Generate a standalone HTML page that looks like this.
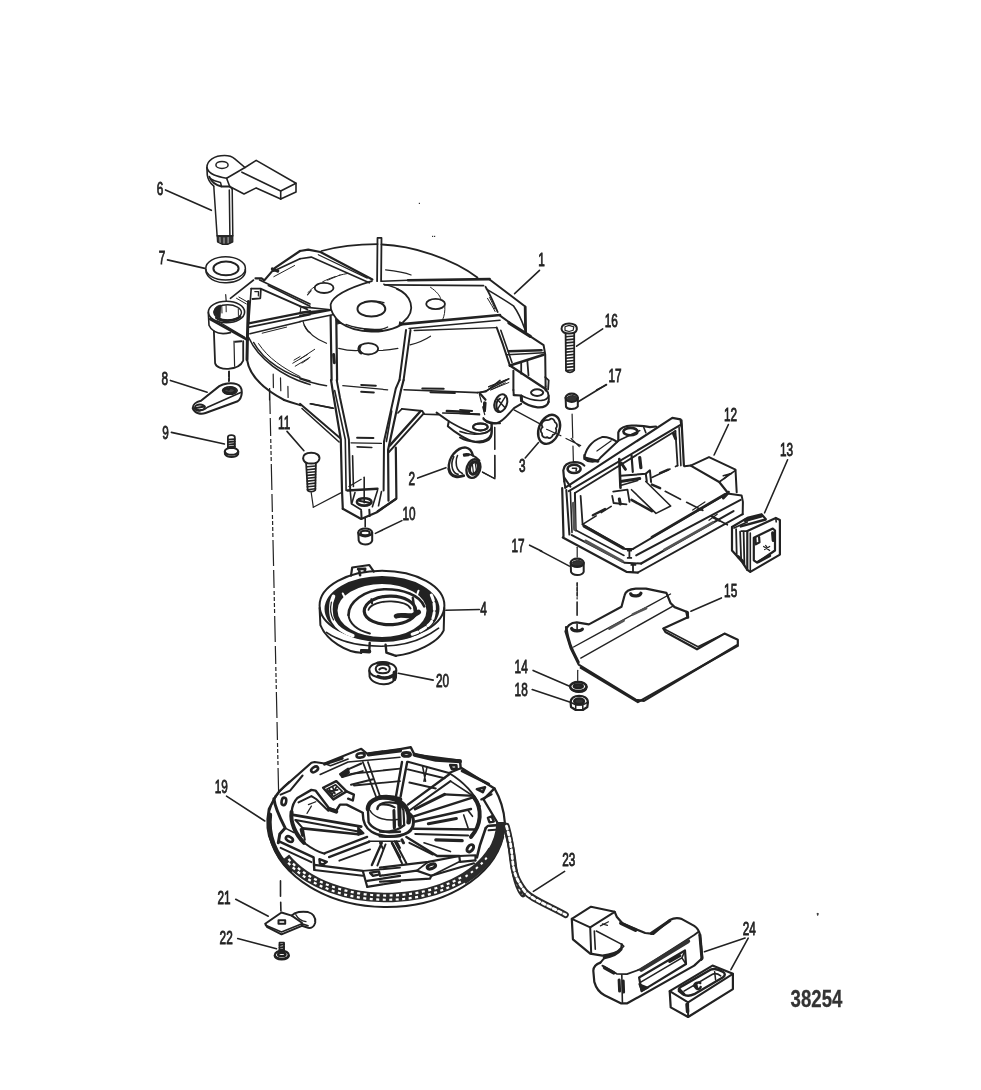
<!DOCTYPE html>
<html><head><meta charset="utf-8"><title>38254</title>
<style>
html,body{margin:0;padding:0;background:#fff;}
body{width:981px;height:1090px;overflow:hidden;}
svg{display:block;will-change:transform;}
svg path, svg ellipse, svg line{stroke:#222;stroke-linecap:round;stroke-linejoin:round;}
svg text{font-family:"Liberation Sans",sans-serif;fill:#222;stroke:#222;stroke-width:0.8px;}
</style></head><body>
<svg width="981" height="1090" viewBox="0 0 981 1090" fill="none" stroke="#222" stroke-width="1.6">
<path d="M 206.9 167.5 C 206.9 160.4 214.4 155.5 224.6 155.5 C 229.7 155.5 232.8 157.1 234.8 158.8 L 245.0 167.5 L 226.6 178.3 C 218.5 176.7 208.3 174.7 206.9 167.5 Z"/>
<ellipse cx="222.0" cy="164.9" rx="6.1" ry="3.5" stroke-width="1.5"/>
<path d="M 245.0 167.5 L 256.2 160.4 L 296.0 183.2 L 280.7 191.0 L 241.9 172.2"/>
<path d="M 296.0 183.2 L 296.0 192.0 L 280.7 199.1 L 280.7 191.0"/>
<path d="M 280.7 199.1 L 256.2 187.9 L 244.0 194.0 L 229.7 186.5"/>
<path d="M 206.9 167.5 L 207.3 175.1 C 207.9 179.8 210.3 183.2 213.8 186.1"/>
<path d="M 226.6 178.3 L 229.7 186.5 M 229.7 186.5 L 232.2 188.9"/>
<path d="M 209.3 176.7 C 211.4 181.8 215.4 185.3 221.5 186.5 L 229.7 186.5" stroke-width="1.8"/>
<path d="M 210.3 178.7 C 213.4 180.8 217.5 181.8 220.5 182.4 L 221.5 186.5" stroke-width="1.5"/>
<path d="M 213.8 186.5 L 217.1 235.8 M 232.2 188.9 L 232.8 235.8 M 229.3 189.9 L 229.9 235.8" stroke-width="1.5"/>
<path d="M 217.1 235.8 L 217.5 241.9 L 222.6 244.4 L 227.7 244.4 L 232.8 241.9 L 232.8 235.8 Z" stroke-width="1.2" fill="#333"/>
<path d="M 219.9 237.5 L 220.1 242.3 M 224.0 237.9 L 224.0 243.2 M 228.1 237.5 L 228.1 242.8" stroke-width="0.8" style="stroke:#ddd"/>
<path d="M 217.1 235.8 L 232.8 235.8" stroke-width="1.2"/>
<path d="M 165.5 189.9 L 211.4 210.3"/>
<text transform="translate(156.7 194.6) scale(0.67 1)" font-size="17.6">6</text>
<ellipse cx="225.6" cy="268.4" rx="19.8" ry="11.6" stroke-width="1.5"/>
<ellipse cx="226.0" cy="268.4" rx="12.6" ry="6.9" stroke-width="2"/>
<path d="M 205.9 269.5 L 206.1 272.5 C 209.3 280.7 219.5 283.1 226.6 282.7 C 235.8 282.7 244.0 278.6 245.4 272.1 L 245.4 269.5" stroke-width="1.5"/>
<path d="M 167.5 259.9 L 204.8 268.4"/>
<text transform="translate(158.8 264.4) scale(0.67 1)" font-size="17.6">7</text>
<ellipse cx="226.5" cy="312.0" rx="18.1" ry="10.8" stroke-width="1.6"/>
<ellipse cx="227.7" cy="312.4" rx="13.7" ry="7.6" stroke-width="1.4"/>
<path d="M 214.0 312.0 C 214.0 307.5 217.5 305.7 220.6 305.1 L 220.0 317.9 C 216.3 316.7 214.0 314.9 214.0 312.0 Z" stroke-width="1" fill="#222"/>
<path d="M 216.3 317.7 C 221.8 322.2 235.3 321.6 240.2 316.7" stroke-width="2.6"/>
<path d="M 221.8 306.3 L 222.0 313.0 M 226.1 305.7 L 226.2 311.8 M 238.3 308.7 L 238.4 315.5" stroke-width="1"/>
<path d="M 225.7 294.7 L 226.2 301.4" stroke-width="1.2"/>
<path d="M 208.3 312.4 L 209.0 325.3 C 210.2 328.3 212.0 330.2 214.5 331.4" stroke-width="1.6"/>
<path d="M 213.9 331.4 L 215.1 363.2 C 216.9 371.1 238.9 371.1 243.2 360.7 L 243.2 341.2" stroke-width="1.8"/>
<path d="M 234.0 341.2 L 234.6 366.2" stroke-width="1.2"/>
<path d="M 214.5 331.4 C 219.4 334.4 225.5 333.8 230.4 332.6" stroke-width="1.6"/>
<path d="M 210.2 319.1 L 247.5 339.9" stroke-width="2.6"/>
<path d="M 217.5 321.0 L 244.4 337.2" stroke-width="1.4"/>
<path d="M 235.3 341.8 L 241.4 341.2" stroke-width="2"/>
<path d="M 228.9 371.7 L 228.9 381.5" stroke-dasharray="5 2"/>
<path d="M 248.5 301.4 L 247.5 333.8 L 247.0 359.5" stroke-width="3"/>
<path d="M 247.0 359.5 C 248.7 371.7 258.5 386.4 284.2 400.0" stroke-width="2"/>
<path d="M 230.4 298.3 L 253.6 280.0" stroke-width="1.6"/>
<path d="M 236.5 298.3 L 246.3 303.9 M 238.9 297.1 L 247.5 302.0" stroke-width="1"/>
<path d="M 251.2 288.6 L 260.9 288.6 L 260.3 298.3 L 252.4 299.0" stroke-width="1.8"/>
<path d="M 254.8 291.6 L 258.5 291.6 L 258.3 295.9" stroke-width="1.2"/>
<path d="M 251.2 288.6 L 248.7 322.8" stroke-width="1.6"/>
<path d="M 261.6 289.2 L 307.4 309.4" stroke-width="1.9"/>
<path d="M 259.7 280.0 L 310.0 303.9" stroke-width="1.7"/>
<path d="M 268.3 285.5 L 310.0 306.3"/>
<path d="M 248.7 323.4 L 310.0 311.2" stroke-width="2.2"/>
<path d="M 249.3 327.1 L 310.0 314.6" stroke-width="1.6"/>
<path d="M 249.9 333.8 L 300.1 321.8" stroke-width="1.6"/>
<path d="M 262.2 333.2 L 286.6 327.1" stroke-width="1"/>
<path d="M 300.7 308.1 L 300.1 313.6" stroke-width="1.2"/>
<path d="M 248.7 337.5 C 258.5 359.5 283.0 376.6 310.0 384.6" stroke-width="1.6"/>
<path d="M 253.6 342.4 C 263.4 360.7 286.6 375.4 310.0 380.9" stroke-width="1.4"/>
<path d="M 258.5 343.6 C 268.3 358.3 283.0 368.1 300.1 376.6" stroke-width="1"/>
<path d="M 292.8 363.2 L 307.4 354.6 M 295.2 366.2 L 310.0 357.3 M 294.0 360.1 L 300.1 356.5" stroke-width="1"/>
<path d="M 273.2 374.2 L 273.4 387.6 M 280.5 377.9 L 280.8 390.7 M 287.9 386.4 L 288.1 397.4 M 269.5 390.1 L 269.5 400.0" stroke-width="1.2"/>
<path d="M 303.1 321.6 C 304.4 326.5 307.4 331.4 310.0 332.6" stroke-width="1.2"/>
<path d="M 321.4 251.0 C 340.8 245.5 361.2 244.1 377.5 244.1" stroke-width="1.8"/>
<path d="M 381.5 244.5 C 412.1 245.5 452.9 258.7 477.4 277.5" stroke-width="1.8"/>
<path d="M 377.5 237.9 L 377.1 281.2 M 381.5 237.9 L 381.1 281.2 M 377.5 237.9 L 381.5 237.9" stroke-width="1.8"/>
<path d="M 300.0 251.0 L 308.2 249.6 L 320.4 252.0 L 372.4 279.5" stroke-width="2.2"/>
<path d="M 300.0 258.7 L 311.2 257.1 L 369.3 282.8" stroke-width="1.6"/>
<path d="M 318.3 254.7 L 367.3 278.1" stroke-width="1.2"/>
<path d="M 371.8 281.2 C 351.0 287.3 332.6 295.4 330.6 304.6 C 330.2 309.7 332.6 315.8 340.8 323.0" stroke-width="1.8"/>
<path d="M 340.8 323.0 C 357.1 334.2 385.6 334.2 401.9 324.4" stroke-width="2"/>
<path d="M 345.9 324.4 C 361.2 330.1 381.5 331.1 387.7 327.0" stroke-width="1.2"/>
<path d="M 365.2 330.1 L 381.5 330.5" stroke-width="3"/>
<path d="M 396.8 288.9 C 410.1 294.4 418.2 309.7 403.0 322.3" stroke-width="1.8"/>
<path d="M 383.6 284.2 C 391.7 286.3 397.9 288.3 401.9 291.4" stroke-width="1.2"/>
<ellipse cx="371.4" cy="308.9" rx="13.9" ry="7.7" stroke-width="2"/>
<path d="M 364.8 302.0 C 369.3 300.7 379.5 300.7 384.0 302.8" stroke-width="1.4"/>
<ellipse cx="324.1" cy="287.9" rx="9.4" ry="5.1" stroke-width="1.8"/>
<ellipse cx="435.6" cy="304.0" rx="9.4" ry="5.1" stroke-width="1.8"/>
<ellipse cx="368.3" cy="348.8" rx="9.8" ry="5.7" stroke-width="1.8"/>
<path d="M 360.1 346.0 C 358.1 348.4 359.1 351.5 361.2 352.9" stroke-width="3"/>
<path d="M 381.5 281.2 L 408.1 280.3" stroke-width="1.6"/>
<path d="M 408.1 280.3 L 489.6 279.1" stroke-width="2.6"/>
<path d="M 384.6 284.8 L 483.5 285.6" stroke-width="1.8"/>
<path d="M 489.6 297.5 C 491.6 301.5 493.7 305.6 494.7 308.7" stroke-width="1"/>
<path d="M 399.9 324.4 L 500.0 315.0" stroke-width="2.6"/>
<path d="M 399.9 321.9 L 406.0 324.4 L 399.9 324.4 Z" stroke-width="1" fill="#222"/>
<path d="M 409.1 328.5 L 500.0 320.3" stroke-width="1.6"/>
<path d="M 414.2 330.5 L 496.1 327.6" stroke-width="1.4"/>
<path d="M 308.2 292.4 C 312.2 287.3 326.5 277.1 347.9 273.4" stroke-width="1" stroke-dasharray="14 4"/>
<path d="M 385.6 269.9 C 395.8 271.0 406.0 273.0 411.1 275.0" stroke-width="1.2"/>
<path d="M 430.5 287.3 C 436.6 291.4 439.7 295.4 440.7 298.5" stroke-width="1"/>
<path d="M 444.8 305.6 C 445.2 311.7 444.3 315.8 442.7 319.5" stroke-width="1"/>
<path d="M 430.5 336.2 C 424.4 340.3 416.2 343.3 410.1 344.8" stroke-width="1.2"/>
<path d="M 338.7 348.4 C 346.9 350.5 353.0 350.9 359.1 350.5 M 378.5 350.5 C 385.6 350.5 391.7 349.7 397.9 348.4" stroke-width="1.2"/>
<path d="M 304.1 325.0 C 308.2 333.1 316.3 339.3 326.5 343.3" stroke-width="1.2"/>
<path d="M 300.0 306.6 L 330.6 309.7" stroke-width="1.6"/>
<path d="M 300.0 312.8 L 330.6 310.1 L 300.0 315.8" stroke-width="2"/>
<path d="M 300.0 321.5 L 332.6 314.8" stroke-width="1.6"/>
<path d="M 330.6 315.8 L 331.6 380.0" stroke-width="2.2"/>
<path d="M 336.3 320.3 L 337.1 380.0" stroke-width="2.2"/>
<path d="M 335.7 318.9 L 340.8 323.0 L 337.7 324.0 Z" stroke-width="1" fill="#222"/>
<path d="M 406.0 330.1 L 399.5 380.0" stroke-width="2"/>
<path d="M 410.5 330.1 L 403.6 380.0" stroke-width="2"/>
<path d="M 333.6 354.6 L 334.3 362.7" stroke-width="3"/>
<path d="M 300.0 359.0 L 314.7 349.3 M 302.0 363.1 L 308.6 358.6" stroke-width="1"/>
<path d="M 489.6 279.5 L 525.2 306.5" stroke-width="2"/>
<path d="M 525.2 307.1 L 525.6 331.9" stroke-width="2.8"/>
<path d="M 485.5 286.7 C 490.6 295.2 494.7 305.4 497.7 312.0" stroke-width="1.8"/>
<path d="M 486.5 289.1 C 496.7 295.2 506.9 301.4 513.4 305.8 C 519.1 313.6 522.2 321.7 524.8 328.9"/>
<path d="M 487.5 298.3 C 490.6 303.4 493.6 308.5 495.1 311.5" stroke-width="1"/>
<path d="M 500.0 315.6 L 509.9 322.8" stroke-width="2"/>
<path d="M 508.9 322.8 L 530.3 336.4" stroke-width="3.2"/>
<path d="M 530.3 336.4 L 543.6 345.2 L 545.2 354.4 L 545.6 386.0" stroke-width="2"/>
<path d="M 496.7 327.5 L 502.8 344.2 L 509.9 365.6" stroke-width="2"/>
<path d="M 500.8 330.3 L 512.0 362.5"/>
<path d="M 508.9 351.3 L 541.5 350.3" stroke-width="2.6"/>
<path d="M 507.3 354.8 L 543.6 352.7"/>
<path d="M 509.9 365.6 L 543.6 354.8" stroke-width="2.6"/>
<path d="M 509.9 365.6 L 545.6 389.0" stroke-width="2.4"/>
<path d="M 521.2 362.5 L 521.2 373.7 M 527.3 360.5 L 528.5 375.2" stroke-width="1.8"/>
<path d="M 513.4 370.7 L 513.4 390.0" stroke-width="2"/>
<path d="M 488.5 387.0 L 506.9 379.8 M 490.6 390.0 L 508.9 382.5" stroke-width="1"/>
<path d="M 545.2 377.2 L 548.7 380.3 L 548.1 389.4" stroke-width="1.8"/>
<path d="M 539.5 270.4 L 514.6 293.6"/>
<text transform="translate(538.3 266.3) scale(0.67 1)" font-size="17.6">1</text>
<path d="M 561.5 328.9 C 561.5 324.8 565.0 323.4 569.1 323.4 C 573.8 323.4 577.2 325.4 576.8 329.5 C 576.2 332.3 573.1 333.6 569.1 333.6 C 565.0 333.6 561.9 331.9 561.5 328.9 Z" stroke-width="2"/>
<path d="M 565.0 326.8 L 569.1 325.4 L 573.8 326.8 L 573.1 330.3 L 569.1 331.5 L 565.0 330.3 Z" stroke-width="1.2"/>
<path d="M 565.6 333.6 L 566.0 370.7 C 568.1 373.1 572.1 373.1 574.2 370.3 L 574.2 333.6" stroke-width="1.8"/>
<path d="M 566.0 336.8 L 574.2 336.0" stroke-width="1.6"/>
<path d="M 566.0 339.9 L 574.2 339.1" stroke-width="1.6"/>
<path d="M 566.0 342.9 L 574.2 342.1" stroke-width="1.6"/>
<path d="M 566.0 346.0 L 574.2 345.2" stroke-width="1.6"/>
<path d="M 566.0 349.1 L 574.2 348.2" stroke-width="1.6"/>
<path d="M 566.0 352.1 L 574.2 351.3" stroke-width="1.6"/>
<path d="M 566.0 355.2 L 574.2 354.4" stroke-width="1.6"/>
<path d="M 566.0 358.2 L 574.2 357.4" stroke-width="1.6"/>
<path d="M 566.0 361.3 L 574.2 360.5" stroke-width="1.6"/>
<path d="M 566.0 364.4 L 574.2 363.5" stroke-width="1.6"/>
<path d="M 566.0 367.4 L 574.2 366.6" stroke-width="1.6"/>
<path d="M 566.0 370.5 L 574.2 369.7" stroke-width="1.6"/>
<path d="M 602.7 328.9 L 576.6 346.2"/>
<text transform="translate(604.8 327.1) scale(0.67 1)" font-size="17.6">16</text>
<text transform="translate(608.4 381.5) scale(0.67 1)" font-size="17.6">17</text>
<path d="M 606.4 384.9 L 596.6 390.0"/>
<path d="M 331.0 380.0 L 333.0 392.6 L 340.8 439.5 L 342.0 490.5 L 342.8 508.8" stroke-width="2.2"/>
<path d="M 336.7 380.0 L 340.0 397.7 L 348.9 439.5 L 350.2 490.5" stroke-width="2"/>
<path d="M 334.7 390.6 L 345.3 439.5 L 346.1 490.5"/>
<path d="M 399.5 380.0 L 395.8 388.5 L 384.0 441.5 L 383.6 490.5" stroke-width="2"/>
<path d="M 403.6 380.0 L 400.9 390.6 L 388.1 449.7 L 388.5 500.7" stroke-width="2.2"/>
<path d="M 391.7 411.0 L 386.4 441.5"/>
<path d="M 395.8 447.7 L 396.4 498.6 L 377.5 511.3" stroke-width="2.2"/>
<path d="M 342.8 508.8 L 361.2 519.0 L 377.5 511.9 L 395.8 499.0" stroke-width="2.2"/>
<path d="M 350.2 490.5 L 351.4 503.7 L 361.2 509.8" stroke-width="1.6"/>
<path d="M 347.3 490.5 L 377.5 488.8" stroke-width="2.4"/>
<path d="M 355.0 492.5 L 352.0 502.7 M 377.5 490.5 L 372.4 506.8 M 381.5 491.5 L 378.5 505.8" stroke-width="1.6"/>
<ellipse cx="364.2" cy="501.9" rx="7.3" ry="3.7" stroke-width="2.6"/>
<path d="M 359.1 500.7 L 369.3 502.7" stroke-width="2"/>
<path d="M 364.2 477.2 L 364.2 502.7"/>
<path d="M 361.2 510.9 L 361.6 518.6 M 369.3 509.8 L 369.7 516.0" stroke-width="2"/>
<path d="M 352.6 455.8 L 353.4 486.4"/>
<path d="M 300.0 378.8 C 310.2 382.4 318.3 384.5 326.5 385.7"/>
<path d="M 342.8 385.7 L 387.7 389.8" stroke-width="1.2"/>
<path d="M 361.2 384.9 L 375.8 385.7 M 361.2 391.8 L 373.8 392.4" stroke-width="2"/>
<path d="M 404.0 389.8 L 477.4 392.6"/>
<path d="M 422.3 388.5 L 443.7 388.7 M 430.5 392.2 L 454.9 393.0" stroke-width="2"/>
<path d="M 357.1 437.7 L 373.4 438.1" stroke-width="2"/>
<path d="M 351.0 442.8 L 381.5 443.4" stroke-width="1.2"/>
<path d="M 357.1 446.9 L 371.8 447.5" stroke-width="1.6"/>
<path d="M 300.0 403.8 L 340.0 437.9" stroke-width="2"/>
<path d="M 302.0 408.5 L 339.1 442.0" stroke-width="1.6"/>
<path d="M 310.2 403.8 L 332.6 408.1"/>
<path d="M 420.7 411.0 L 389.7 445.6" stroke-width="2.4"/>
<path d="M 423.8 413.4 L 388.9 452.2" stroke-width="2"/>
<path d="M 401.9 408.9 L 422.3 411.0 L 423.8 413.4" stroke-width="1.8"/>
<path d="M 397.9 413.0 L 401.9 408.9"/>
<path d="M 424.4 414.2 L 438.6 414.6" stroke-width="1.6"/>
<path d="M 436.6 412.6 L 448.8 421.2 L 447.8 426.3 C 454.9 432.4 467.2 440.5 475.3 442.0 C 483.5 443.6 491.6 440.5 491.6 433.4 L 491.6 423.6" stroke-width="2"/>
<path d="M 442.7 413.0 L 479.4 414.0"/>
<path d="M 446.8 411.0 L 469.2 412.0" stroke-width="2.4"/>
<path d="M 448.8 421.2 C 459.0 427.3 471.3 433.4 479.4 433.8 C 485.5 433.8 489.6 431.4 491.6 428.3"/>
<ellipse cx="480.4" cy="426.9" rx="7.3" ry="3.5" stroke-width="2"/>
<path d="M 477.4 392.6 L 485.9 391.6 L 500.0 380.4" stroke-width="1.6"/>
<path d="M 479.4 394.3 L 485.9 419.1" stroke-width="1.2" stroke-dasharray="8 5"/>
<path d="M 484.5 402.8 L 484.5 410.2" stroke-width="3"/>
<path d="M 483.5 419.1 C 487.6 422.2 493.7 423.6 500.0 423.2" stroke-width="2"/>
<path d="M 500.0 398.7 C 495.7 400.8 494.7 408.9 500.0 412.0" stroke-width="2"/>
<path d="M 494.7 427.3 L 494.7 478.2" stroke-width="1.2" stroke-dasharray="22 6"/>
<path d="M 482.5 472.1 L 494.7 478.7" stroke-width="1.2"/>
<path d="M 448.9 468.9 C 448.3 462.8 450.2 457.9 453.8 453.6 C 457.5 449.4 462.4 447.2 466.1 447.6 C 469.1 448.1 471.6 450.6 472.8 455.2" stroke-width="2.4"/>
<path d="M 448.9 468.9 C 449.5 472.6 452.0 475.7 455.7 476.5 C 458.7 477.2 461.2 476.5 463.6 475.7" stroke-width="3"/>
<path d="M 453.8 456.7 C 452.0 460.4 451.4 465.3 452.6 468.9 C 453.6 472.0 455.7 473.8 458.1 474.4" stroke-width="1.6"/>
<path d="M 457.5 455.5 C 455.7 459.1 455.7 465.3 457.5 468.9 C 458.7 471.4 460.6 472.8 462.4 473.6" stroke-width="1.6"/>
<path d="M 463.6 454.3 C 467.3 453.3 472.2 454.9 475.8 457.3 L 479.5 460.4" stroke-width="1.8"/>
<path d="M 464.2 455.5 L 468.5 454.9" stroke-width="2.6"/>
<ellipse cx="473.4" cy="468.6" rx="6.7" ry="9.5" transform="rotate(18 473.4 468.6)" stroke-width="2.4"/>
<ellipse cx="473.9" cy="468.0" rx="4.2" ry="6.4" transform="rotate(18 473.9 468.0)" stroke-width="3"/>
<path d="M 472.2 462.8 L 473.4 472.6 M 475.2 462.8 L 476.5 471.4" stroke-width="1.2"/>
<path d="M 417.7 478.1 L 445.9 467.7"/>
<text transform="translate(408.6 485.0) scale(0.67 1)" font-size="17.6">2</text>
<path d="M 303.1 458.3 C 303.1 454.2 307.1 452.8 311.2 452.8 C 316.3 452.8 319.8 454.8 319.4 458.9 C 318.8 462.3 315.3 463.6 311.2 463.6 C 307.1 463.6 303.5 461.9 303.1 458.3 Z" stroke-width="2"/>
<path d="M 306.1 463.0 L 307.7 490.5 C 309.8 492.1 313.3 492.1 315.3 490.1 L 315.9 463.0" stroke-width="1.8"/>
<path d="M 307.3 466.8 L 315.5 466.0" stroke-width="1.6"/>
<path d="M 307.3 469.7 L 315.5 468.9" stroke-width="1.6"/>
<path d="M 307.3 472.5 L 315.5 471.7" stroke-width="1.6"/>
<path d="M 307.3 475.4 L 315.5 474.6" stroke-width="1.6"/>
<path d="M 307.3 478.2 L 315.5 477.4" stroke-width="1.6"/>
<path d="M 307.3 481.1 L 315.5 480.3" stroke-width="1.6"/>
<path d="M 307.3 484.0 L 315.5 483.1" stroke-width="1.6"/>
<path d="M 307.3 486.8 L 315.5 486.0" stroke-width="1.6"/>
<path d="M 307.3 489.7 L 315.5 488.8" stroke-width="1.6"/>
<path d="M 311.2 492.5 L 313.3 507.2" stroke-width="1.2"/>
<path d="M 313.3 507.2 L 340.8 492.9 M 348.9 486.4 L 361.2 479.3" stroke-width="1.2"/>
<text transform="translate(402.5 519.6) scale(0.67 1)" font-size="17.6">10</text>
<path d="M 513.4 390.0 L 513.8 395.1" stroke-width="2"/>
<path d="M 545.6 386.5 L 545.6 390.6" stroke-width="2"/>
<path d="M 545.6 389.2 C 549.3 392.6 549.3 399.8 548.1 402.8" stroke-width="2"/>
<path d="M 513.8 395.1 L 521.2 395.5 L 521.6 400.8 C 525.2 403.8 530.3 406.1 537.5 407.3 C 543.6 407.7 547.3 405.9 548.7 401.8" stroke-width="2.2"/>
<path d="M 521.2 395.5 C 527.3 398.7 535.4 400.8 541.5 400.4 C 545.6 400.0 548.1 397.7 548.7 395.7"/>
<ellipse cx="537.1" cy="392.6" rx="6.1" ry="3.3" stroke-width="2"/>
<path d="M 521.2 396.3 L 521.6 400.8" stroke-width="3"/>
<ellipse cx="500.8" cy="403.2" rx="6.1" ry="9.2" transform="rotate(20 500.8 403.2)" stroke-width="2"/>
<path d="M 496.7 398.7 L 505.3 408.1 M 505.3 396.7 L 497.1 409.9" stroke-width="1.5"/>
<path d="M 486.5 390.6 L 508.9 378.8" stroke-width="1.6"/>
<path d="M 488.5 386.5 L 506.9 379.4 M 491.0 389.8 L 505.3 382.8" stroke-width="1"/>
<path d="M 480.4 392.6 L 486.5 390.6" stroke-dasharray="6 4"/>
<path d="M 480.0 393.6 L 485.5 399.8 M 485.5 402.8 L 484.9 411.0" stroke-width="2.2" stroke-dasharray="12 6"/>
<path d="M 483.4 418.1 C 485.5 422.2 490.6 424.2 496.7 423.2 C 503.8 421.2 508.9 413.0 514.0 408.1 L 521.2 403.8" stroke-width="2"/>
<ellipse cx="480.4" cy="426.9" rx="7.3" ry="3.5" stroke-width="2"/>
<path d="M 460.0 437.5 C 466.1 441.1 474.3 442.6 482.4 441.1 C 488.5 439.5 491.6 436.5 491.8 431.4 L 491.6 423.6" stroke-width="2"/>
<path d="M 460.0 431.4 C 466.1 433.8 474.3 434.6 480.4 433.8 C 486.5 433.0 490.2 430.3 491.6 427.3"/>
<path d="M 494.7 427.3 L 495.1 478.2" stroke-width="1.2" stroke-dasharray="22 6"/>
<path d="M 482.4 472.1 L 495.1 478.7" stroke-width="1.2"/>
<path d="M 460.0 409.9 L 472.2 411.0 M 460.0 413.4 L 479.4 414.6" stroke-width="1.8"/>
<ellipse cx="549.1" cy="429.3" rx="10.2" ry="15.1" transform="rotate(22 549.1 429.3)" stroke-width="2.4"/>
<path d="M 543.6 421.2 C 545.6 419.1 548.1 421.2 549.7 419.5 C 551.7 417.5 554.2 419.1 555.0 422.2 C 557.0 423.2 557.9 426.3 555.8 428.3 C 557.5 431.4 555.4 434.4 552.8 435.0 C 552.2 437.9 548.9 439.1 547.3 437.1 C 544.6 438.5 541.5 436.5 542.0 433.4 C 539.9 431.4 540.7 428.3 542.6 427.3 C 541.1 424.8 542.0 422.2 543.6 421.2 Z" stroke-width="1.8"/>
<path d="M 538.5 442.6 L 525.2 457.9"/>
<text transform="translate(519.1 471.7) scale(0.67 1)" font-size="17.6">3</text>
<path d="M 514.0 409.9 L 539.5 423.6" stroke-width="1.2"/>
<path d="M 546.6 429.3 L 560.9 435.8 M 566.0 438.5 L 580.7 445.6 M 571.1 438.5 L 579.3 446.6" stroke-width="1.2"/>
<path d="M 565.6 397.7 L 566.0 406.9 C 568.1 409.9 575.2 409.9 577.8 406.5 L 577.8 397.7" stroke-width="2"/>
<ellipse cx="571.7" cy="397.7" rx="6.1" ry="4.1" stroke-width="2.2"/>
<path d="M 567.0 397.7 C 568.1 395.1 575.2 394.7 576.6 397.3 L 576.2 400.8 L 567.6 400.8 Z" stroke-width="1" fill="#333"/>
<path d="M 606.4 384.5 L 578.2 401.8"/>
<path d="M 572.1 414.0 L 573.4 461.9" stroke-width="1.2" stroke-dasharray="24 8"/>
<path d="M 565.3 487.7 L 672.3 417.9 L 680.5 419.4 L 681.5 426.5" stroke-width="2.2"/>
<path d="M 568.8 491.1 L 680.5 424.9" stroke-width="2"/>
<path d="M 574.9 493.0 L 675.4 431.0" stroke-width="1.8"/>
<path d="M 681.5 420.4 L 683.9 465.6" stroke-width="2.2"/>
<path d="M 675.4 431.0 L 677.6 465.6" stroke-width="1.8"/>
<path d="M 679.1 427.5 L 680.9 465.6"/>
<path d="M 673.5 433.6 L 675.6 438.7" stroke-width="3"/>
<path d="M 564.3 481.5 L 563.3 470.3 C 563.9 465.2 568.3 462.4 574.5 462.2 C 579.6 462.2 582.6 463.6 584.3 465.6" stroke-width="2.2"/>
<ellipse cx="574.1" cy="468.9" rx="6.5" ry="4.1" stroke-width="2.6"/>
<path d="M 572.4 468.3 L 576.5 468.3 L 576.1 470.9"/>
<path d="M 564.3 481.5 L 565.3 487.7 M 564.3 477.5 L 570.4 486.6" stroke-width="2"/>
<path d="M 584.3 459.1 C 584.7 451.0 590.8 440.8 602.0 437.1 C 607.1 436.3 612.2 438.7 617.3 441.8" stroke-width="2"/>
<path d="M 584.3 455.0 C 583.6 459.1 586.7 461.2 590.8 461.6 C 595.9 462.2 598.9 460.1 600.6 457.5 L 617.3 441.8" stroke-width="2"/>
<path d="M 585.7 458.1 L 597.9 461.2" stroke-width="3"/>
<path d="M 596.9 451.0 L 611.2 440.8" stroke-width="1.2"/>
<path d="M 618.3 440.8 L 618.3 432.6 C 619.3 428.1 625.4 425.5 631.5 425.5 C 639.7 425.5 645.8 426.1 649.9 427.1 L 656.0 426.5" stroke-width="2.2"/>
<ellipse cx="630.5" cy="431.6" rx="7.1" ry="3.7" stroke-width="2.6"/>
<path d="M 618.3 440.8 L 620.3 439.8 L 639.7 430.6"/>
<path d="M 643.8 427.5 L 645.8 432.6"/>
<path d="M 562.2 488.1 L 563.5 536.6" stroke-width="2.2"/>
<path d="M 566.3 490.1 L 569.4 534.6" stroke-width="2"/>
<path d="M 570.4 491.7 L 572.0 532.5"/>
<path d="M 574.9 493.0 L 575.7 530.5" stroke-width="2"/>
<path d="M 580.6 495.8 L 582.6 524.4" stroke-width="1.8"/>
<path d="M 582.6 524.4 L 611.2 506.4" stroke-dasharray="16 6"/>
<path d="M 592.8 515.2 L 605.0 509.1" stroke-width="2.4"/>
<path d="M 651.9 477.5 L 677.6 465.6" stroke-dasharray="20 6"/>
<path d="M 660.1 473.0 L 668.2 469.7" stroke-width="2.4"/>
<path d="M 633.0 548.8 L 727.4 493.4" stroke-width="2"/>
<path d="M 651.9 537.0 L 725.3 494.2" stroke-width="2.6"/>
<path d="M 636.2 555.4 L 740.6 499.9" stroke-width="2"/>
<path d="M 641.1 563.5 L 733.5 511.1" stroke-width="2.2"/>
<path d="M 664.2 549.8 L 713.1 522.3" stroke-width="2.6" style="stroke:#555"/>
<path d="M 637.9 572.5 L 742.7 514.2" stroke-width="2"/>
<path d="M 727.4 493.4 L 741.6 495.4 L 742.9 501.9 L 742.7 514.2" stroke-width="2"/>
<path d="M 723.3 497.9 C 725.3 495.8 727.4 494.2 728.4 492.2" stroke-width="3"/>
<path d="M 684.6 466.3 L 690.7 465.6 L 709.0 457.1 L 735.5 469.7 L 736.7 492.2" stroke-width="2"/>
<path d="M 690.7 465.6 L 719.2 482.0 L 727.4 492.2" stroke-width="2.2"/>
<path d="M 719.2 482.0 L 735.5 470.3"/>
<path d="M 723.3 475.8 L 731.4 473.4 M 724.3 478.5 L 729.4 473.8"/>
<path d="M 619.3 459.1 L 620.5 487.7" stroke-width="2.6"/>
<path d="M 631.5 455.0 L 632.8 471.8" stroke-width="2.2"/>
<path d="M 639.7 457.5 L 640.9 467.7" stroke-width="3.2"/>
<path d="M 621.4 463.2 L 625.4 469.3" stroke-width="3"/>
<path d="M 620.5 475.8 L 645.8 473.8 L 649.9 470.3 L 651.1 482.0" stroke-width="2"/>
<path d="M 620.5 481.5 L 639.7 478.5" stroke-width="3"/>
<path d="M 620.5 485.6 L 637.7 480.5"/>
<path d="M 645.8 473.8 L 646.8 481.5" stroke-width="2"/>
<path d="M 613.2 491.7 L 627.5 489.7 L 629.5 501.9" stroke-width="1.8"/>
<path d="M 612.2 495.8 L 613.6 503.0 L 626.5 504.4" stroke-width="1.8"/>
<path d="M 619.3 498.9 L 620.3 504.0" stroke-width="3"/>
<path d="M 631.5 489.7 L 656.0 513.4 L 670.7 506.0 L 645.8 481.5" stroke-width="1.6"/>
<path d="M 631.5 499.9 L 651.9 511.1" stroke-width="2.6"/>
<path d="M 651.9 484.6 L 660.1 488.1" stroke-width="2.6"/>
<path d="M 665.2 491.3 L 680.5 499.3 M 686.6 502.3 L 702.9 510.5 M 711.1 516.2 L 727.4 524.8"/>
<path d="M 697.8 510.1 L 701.9 509.1 M 713.1 517.2 L 719.2 520.3" stroke-width="2.6"/>
<path d="M 704.9 501.9 L 692.7 510.1 M 717.2 514.2 L 709.0 520.3" stroke-width="1.2"/>
<path d="M 728.4 424.5 L 714.1 455.0"/>
<text transform="translate(723.9 421.0) scale(0.67 1)" font-size="17.6">12</text>
<path d="M 582.7 524.5 L 624.8 548.9 L 633.0 548.9" stroke-width="2"/>
<path d="M 584.0 526.1 L 623.2 548.1" stroke-width="3"/>
<path d="M 575.9 530.2 L 624.0 555.5" stroke-width="1.6"/>
<path d="M 571.8 535.1 L 624.8 562.8 L 641.1 563.6" stroke-width="2"/>
<path d="M 585.7 541.1 L 622.4 561.3" stroke-width="3" style="stroke:#555"/>
<path d="M 562.8 537.5 L 626.4 571.8 L 637.9 572.6" stroke-width="2.2"/>
<path d="M 629.4 550.6 L 629.4 557.9 M 627.7 550.6 L 631.3 550.6 M 627.7 557.9 L 631.3 557.9" stroke-width="1.8"/>
<path d="M 633.0 564.9 L 633.0 571.8 M 631.3 564.9 L 635.4 564.9" stroke-width="1.8"/>
<path d="M 573.4 503.3 L 574.6 529.4" stroke-width="3" style="stroke:#555"/>
<path d="M 570.7 562.8 L 571.0 571.8 C 572.6 575.8 581.6 576.3 583.7 571.8 L 583.7 562.8" stroke-width="2"/>
<ellipse cx="577.2" cy="562.8" rx="6.5" ry="4.1" stroke-width="2.2"/>
<path d="M 572.3 562.8 C 573.4 560.0 581.1 559.7 582.4 562.3 L 582.1 565.6 L 572.9 565.6 Z" stroke-width="1" fill="#333"/>
<path d="M 540.0 550.6 L 569.4 566.1"/>
<path d="M 577.2 547.3 L 577.2 557.1" stroke-width="1.2"/>
<path d="M 577.2 583.2 L 577.2 596.2" stroke-width="1.2" stroke-dasharray="20 6"/>
<path d="M 747.3 531.1 L 775.8 517.9 L 779.9 519.9 L 779.9 554.6 L 750.3 571.9 L 747.3 569.8 Z" stroke-width="2.2"/>
<path d="M 750.3 533.1 L 750.3 571.9 M 775.8 517.9 L 776.2 521.9"/>
<path d="M 753.8 537.8 L 772.8 528.5 L 775.0 530.5 L 775.0 550.5 L 757.1 562.7 L 753.8 560.3 Z" stroke-width="2.2"/>
<path d="M 755.4 538.2 L 755.8 544.4 L 759.5 542.3 L 759.1 537.2" stroke-width="2.2"/>
<path d="M 772.8 533.1 L 773.4 540.3" stroke-width="3.5"/>
<path d="M 758.5 561.7 L 769.7 555.6" stroke-width="3"/>
<path d="M 763.6 546.4 L 769.7 550.5 M 765.6 545.4 L 768.7 549.5 M 764.6 549.5 L 769.7 546.4" stroke-width="1.2"/>
<path d="M 732.0 527.0 L 747.3 517.9 L 761.5 514.2 L 765.6 518.9" stroke-width="2.2"/>
<path d="M 732.0 527.0 L 732.0 550.5 L 741.2 560.7 L 747.3 569.8" stroke-width="2.2"/>
<path d="M 736.1 529.1 L 736.7 554.6 M 740.1 531.7 L 741.2 560.7 M 743.6 531.7 L 744.4 564.8" stroke-width="1.8"/>
<path d="M 745.2 520.3 L 761.5 515.8" stroke-width="3.5"/>
<path d="M 740.8 526.4 L 765.6 519.5" stroke-width="2.4"/>
<path d="M 734.0 528.1 L 747.3 521.9 M 741.2 531.1 L 747.3 531.1"/>
<path d="M 738.1 556.6 L 743.2 561.7" stroke-width="3"/>
<path d="M 787.6 459.8 L 764.6 512.8"/>
<text transform="translate(779.9 455.9) scale(0.67 1)" font-size="17.6">13</text>
<path d="M 565.5 631.5 C 566.1 626.5 570.6 622.4 576.7 622.4 L 588.9 624.4 L 621.5 606.7 L 624.6 595.3 C 625.6 590.8 630.7 589.1 635.8 588.7 L 646.0 588.7 L 666.4 592.8 L 670.5 603.0 L 674.6 607.1 L 687.8 612.2 L 687.8 617.3 L 663.3 628.5 L 665.4 632.0 L 697.0 649.3 L 724.5 633.6 L 737.8 639.7 L 737.8 644.8 L 644.0 700.9 L 635.8 699.8 L 578.7 664.6 L 570.6 647.9 Z" stroke-width="2.2"/>
<path d="M 663.3 628.5 L 698.0 646.8 L 724.5 633.6"/>
<path d="M 580.8 667.8 L 637.9 702.1 L 737.8 645.8" stroke-width="2.2"/>
<path d="M 573.6 647.0 L 670.5 594.0" stroke-width="1.4"/>
<path d="M 580.8 658.1 L 672.5 606.3" stroke-width="1.4"/>
<path d="M 609.3 628.7 L 623.6 620.7 M 632.8 614.4 L 646.0 608.3" stroke-width="2.6" style="stroke:#555"/>
<path d="M 571.6 628.5 C 572.6 631.5 580.8 631.5 582.4 629.1" stroke-width="3.2"/>
<path d="M 577.1 624.4 L 577.1 630.5"/>
<path d="M 630.7 593.8 C 631.7 596.9 639.9 596.5 640.9 593.2" stroke-width="3.2"/>
<path d="M 686.8 612.2 L 687.8 617.3" stroke-width="3"/>
<path d="M 721.4 597.9 L 690.9 611.2"/>
<text transform="translate(724.1 596.9) scale(0.67 1)" font-size="17.6">15</text>
<path d="M 577.1 582.6 L 577.1 598.9" stroke-width="1.2" stroke-dasharray="3 2"/>
<path d="M 577.1 602.0 L 577.1 615.2" stroke-width="1.6"/>
<path d="M 577.7 670.3 L 577.7 680.5" stroke-width="1.2" stroke-dasharray="14 5"/>
<ellipse cx="578.3" cy="686.6" rx="8.2" ry="4.5" stroke-width="2.6"/>
<ellipse cx="578.3" cy="686.2" rx="4.5" ry="1.8" stroke-width="2.4" fill="#333"/>
<path d="M 570.2 687.0 C 570.6 690.7 575.7 692.3 578.7 692.3 C 582.8 692.3 586.5 690.7 586.9 687.0" stroke-width="1.6"/>
<path d="M 570.6 702.5 C 570.6 697.8 574.7 695.8 579.1 695.8 C 583.8 695.8 587.9 697.8 587.9 702.5 L 587.3 707.0 L 582.8 710.0 L 575.7 710.0 L 571.0 707.0 Z" stroke-width="2.2"/>
<ellipse cx="579.1" cy="701.3" rx="4.9" ry="2.9" stroke-width="2.4" fill="#333"/>
<path d="M 575.7 704.9 L 582.8 704.9 L 587.3 702.5 M 575.7 704.9 L 571.0 702.5 M 575.7 704.9 L 575.7 710.0 M 582.8 704.9 L 582.8 710.0" stroke-width="1.5"/>
<path d="M 192.8 408.5 C 192.4 404.9 195.9 401.8 201.0 400.8 L 219.3 386.1 C 223.4 383.4 231.5 382.4 236.6 384.1 C 240.7 385.5 242.2 388.5 241.7 393.6 C 241.3 397.7 239.7 399.8 237.7 401.2 L 205.5 413.0 C 201.0 414.6 194.9 413.4 192.8 408.5 Z" stroke-width="2"/>
<path d="M 201.0 410.2 C 204.0 409.9 206.1 408.9 207.5 407.3 L 240.7 392.6" stroke-width="1.6"/>
<path d="M 193.8 407.9 C 195.9 411.0 198.9 411.4 201.0 410.2"/>
<ellipse cx="229.9" cy="390.6" rx="7.3" ry="3.7" stroke-width="1.6"/>
<path d="M 223.8 389.6 L 226.5 388.1 L 228.5 389.6 L 230.5 387.5 L 233.6 388.5 L 235.6 390.6 L 233.6 392.6 L 230.5 393.6 L 227.5 392.6 L 225.0 392.2 Z" stroke-width="2.4" fill="#444"/>
<ellipse cx="199.9" cy="407.3" rx="4.9" ry="2.9" stroke-width="2"/>
<path d="M 195.9 407.9 L 204.6 406.5" stroke-width="2"/>
<path d="M 229.1 371.2 L 229.1 380.4"/>
<path d="M 170.4 380.4 L 207.1 392.2"/>
<text transform="translate(161.4 385.1) scale(0.67 1)" font-size="17.6">8</text>
<path d="M 227.9 437.1 C 227.9 434.4 234.6 434.4 234.8 437.1 L 234.8 448.1 L 227.9 448.1 Z" stroke-width="1.8"/>
<path d="M 227.9 439.7 L 234.8 439.1" stroke-width="1.8"/>
<path d="M 227.9 442.2 L 234.8 441.5" stroke-width="1.8"/>
<path d="M 227.9 444.6 L 234.8 444.0" stroke-width="1.8"/>
<path d="M 227.9 447.1 L 234.8 446.4" stroke-width="1.8"/>
<ellipse cx="231.5" cy="451.3" rx="6.7" ry="3.5" stroke-width="2"/>
<path d="M 224.8 451.7 L 225.0 454.2 C 227.5 457.9 235.6 457.9 238.1 454.2 L 238.3 451.7" stroke-width="2"/>
<path d="M 171.4 432.4 L 224.4 444.0"/>
<text transform="translate(162.2 438.7) scale(0.67 1)" font-size="17.6">9</text>
<text transform="translate(278.0 428.9) scale(0.67 1)" font-size="17.6">11</text>
<path d="M 287.0 431.4 L 303.9 450.7"/>
<path d="M269.6 388 L278.6 792" stroke-width="1.2" stroke-dasharray="26 4 18 3 4 2 4 2 4 2 4 3" style="stroke-linecap:butt"/>
<path d="M 284.1 400.0 C 290.7 402.4 295.8 403.8 300.9 405.3" stroke-width="2"/>
<path d="M 311.1 403.8 L 333.5 408.3"/>
<path d="M 358.3 532.8 L 358.7 540.6 C 360.1 545.7 370.3 545.7 372.2 540.6 L 372.2 532.8" stroke-width="2"/>
<ellipse cx="365.2" cy="532.4" rx="6.9" ry="3.9" stroke-width="2.2"/>
<ellipse cx="365.2" cy="533.0" rx="4.5" ry="2.2" stroke-width="2"/>
<path d="M 365.2 518.2 L 365.2 526.7"/>
<path d="M 375.4 533.4 L 401.9 520.6"/>
<ellipse cx="382.0" cy="605.4" rx="62.4" ry="34.7" stroke-width="2"/>
<path d="M 319.6 607.9 L 320.4 625.2 C 326.5 640.5 346.9 652.7 361.2 652.7 M 395.8 655.8 C 414.2 653.7 438.6 642.5 443.7 630.3 L 444.3 607.9" stroke-width="2"/>
<path d="M 361.2 652.7 L 361.2 650.3 L 369.3 650.7 L 369.7 642.9 M 385.6 644.6 L 386.4 652.7 L 393.8 655.2 L 395.8 655.8" stroke-width="2.4"/>
<path d="M 362.2 651.1 L 369.3 651.5" stroke-width="4"/>
<path d="M 326.5 632.3 C 340.8 642.5 361.2 646.2 381.5 646.2 C 401.9 646.2 422.3 640.5 438.6 628.2"/>
<path fill-rule="evenodd" fill="#222" stroke="none" style="stroke:none" d="M324.5 609 A57.5 33 0 1 0 439.5 609 A57.5 33 0 1 0 324.5 609 Z M337.5 610.5 A44.5 26.5 0 1 0 426.5 610.5 A44.5 26.5 0 1 0 337.5 610.5 Z"/>
<path d="M 333.5 596.4 C 330.0 603.5 330.0 614.9 333.5 621.4 C 337.1 627.8 344.3 632.8 352.8 635.6" stroke-width="3.6" style="stroke:#fff"/>
<path d="M 331.4 602.1 C 330.0 607.8 330.7 614.9 333.5 619.9" stroke-width="1.2"/>
<path d="M 431.3 595.0 C 435.6 603.5 435.3 614.9 431.3 622.1 C 427.0 627.8 418.5 632.8 409.9 634.9" stroke-width="3" stroke-dasharray="6 3" style="stroke:#fff"/>
<path d="M 342.8 593.5 L 345.0 597.8 M 418.5 590.7 L 417.0 595.0" stroke-width="2" style="stroke:#fff"/>
<path d="M 348.5 614.9 C 348.5 602.1 364.2 590.0 384.2 589.3 C 402.8 589.0 419.9 595.0 424.2 606.4" stroke-width="2.6"/>
<path d="M 348.5 614.9 C 349.2 623.5 357.1 630.6 369.9 633.5" stroke-width="2"/>
<path d="M 364.2 611.4 C 364.2 602.1 377.1 595.7 391.3 596.1 C 404.2 596.4 415.6 602.1 415.9 610.7 C 415.9 617.8 407.0 623.5 392.8 624.6 C 377.1 625.2 364.9 619.9 364.2 611.4 Z" stroke-width="3.2"/>
<path d="M 368.5 609.9 C 369.9 604.2 381.4 601.0 391.3 601.4 C 399.9 601.8 408.5 604.2 410.6 608.5" stroke-width="1.8"/>
<path d="M 396.3 616.1 C 399.9 614.2 407.0 616.4 412.8 615.7 L 418.5 612.1" stroke-width="5"/>
<path d="M 412.8 597.8 L 414.9 612.1" stroke-width="2.4"/>
<path d="M 371.4 599.2 L 372.1 603.5" stroke-width="2"/>
<path d="M 351.0 575.6 L 352.2 567.5 L 369.3 565.0 L 373.8 571.6" stroke-width="2.2"/>
<path d="M 358.1 569.1 L 365.2 568.7 L 364.8 571.2 M 359.1 569.5 L 360.1 575.2" stroke-width="2.6"/>
<path d="M 445.8 610.3 L 479.4 609.5"/>
<text transform="translate(480.2 614.6) scale(0.67 1)" font-size="17.6">4</text>
<path d="M 275.4 796.5 L 279.1 791.4 L 311.4 762.8 L 314.6 762.0 L 324.6 763.5 L 361.3 748.8 L 366.9 753.5 L 400.0 749.1" stroke-width="2.2"/>
<path d="M 280.6 794.6 L 290.1 790.6 L 302.6 775.5" stroke-width="2"/>
<path d="M 324.6 763.5 L 330.5 765.7 L 348.1 759.1" stroke-width="1.6"/>
<path d="M 324.6 764.2 L 342.2 758.3" stroke-width="3"/>
<path d="M 368.6 754.4 L 400.0 750.6" stroke-width="4"/>
<path d="M 320.2 774.5 L 348.1 762.0 L 400.0 757.3" stroke-width="1.6"/>
<ellipse cx="360.6" cy="755.4" rx="4.1" ry="2.1" transform="rotate(-10 360.6 755.4)" stroke-width="2.6"/>
<ellipse cx="314.6" cy="769.4" rx="3.8" ry="2.3" transform="rotate(-35 314.6 769.4)" stroke-width="2.6"/>
<ellipse cx="283.9" cy="801.4" rx="2.3" ry="3.8" transform="rotate(10 283.9 801.4)" stroke-width="2.6"/>
<ellipse cx="289.4" cy="839.1" rx="3.8" ry="2.3" transform="rotate(30 289.4 839.1)" stroke-width="2.6"/>
<path d="M 319.4 859.2 L 326.8 861.8 L 323.1 864.5 L 319.9 863.6 Z" stroke-width="2.4"/>
<path d="M 370.1 872.8 L 378.9 871.4 L 379.6 874.3 L 373.0 875.8 Z" stroke-width="2.4"/>
<path d="M 273.9 798.7 C 274.7 806.1 279.1 816.3 285.2 828.1 L 279.8 833.9 L 278.3 842.8" stroke-width="3"/>
<path d="M 275.4 796.5 L 268.8 809.0 C 266.6 820.7 267.3 833.9 271.7 842.8" stroke-width="2.2"/>
<path d="M 279.1 841.3 L 313.6 857.4 L 314.3 869.9" stroke-width="2.4"/>
<path d="M 280.6 847.9 L 311.4 862.1" stroke-width="2"/>
<path d="M 285.2 828.1 L 293.8 832.5" stroke-width="1.6"/>
<path d="M 291.6 811.9 C 292.3 804.6 295.2 800.2 297.4 798.0 L 311.4 789.9 L 315.5 790.6 L 329.0 808.3 L 336.3 810.5 L 340.0 804.6 L 346.6 804.6 L 362.8 812.7" stroke-width="2.4"/>
<path d="M 298.5 802.4 L 311.4 796.1 L 316.1 799.0 L 328.3 810.8" stroke-width="2"/>
<path d="M 329.0 809.0 L 336.3 811.6" stroke-width="4"/>
<path d="M 323.1 787.7 L 336.3 781.1 L 346.6 791.4 L 333.4 799.4 Z" stroke-width="2.4"/>
<path d="M 326.8 789.2 L 335.6 784.8 L 342.2 791.4 L 333.4 796.5 Z" stroke-width="1.6"/>
<path d="M 329.0 788.4 L 331.9 794.3 M 332.7 787.0 L 334.9 793.6 M 336.3 787.0 L 331.9 795.0 M 328.3 791.4 L 337.8 789.9" stroke-width="1.6"/>
<path d="M 346.6 791.4 L 353.9 794.6 L 352.8 800.5 L 348.1 798.7" stroke-width="2.4"/>
<path d="M 340.0 774.1 L 348.1 768.6 L 349.0 773.0 L 342.2 777.0 Z" stroke-width="2" fill="#222"/>
<path d="M 348.1 769.4 L 361.3 763.5 M 342.2 777.0 L 362.8 771.1 M 351.0 784.8 L 373.0 779.3" stroke-width="2"/>
<path d="M 308.4 804.6 L 315.8 801.7 M 307.0 813.4 L 311.4 806.1" stroke-width="1.2"/>
<path d="M 291.6 811.9 C 290.1 822.2 295.2 833.9 304.0 842.8" stroke-width="4"/>
<path d="M 304.0 842.8 C 312.8 849.4 318.7 852.3 324.6 853.8" stroke-width="2"/>
<path d="M 293.0 814.9 L 361.3 826.6" stroke-width="2.6"/>
<path d="M 295.5 820.0 L 359.8 831.7" stroke-width="2"/>
<path d="M 302.6 828.4 L 358.3 834.2" stroke-width="2.6"/>
<path d="M 358.1 827.8 L 363.5 833.2 L 358.3 834.7 Z" stroke-width="2" fill="#222"/>
<path d="M 295.5 820.0 L 302.9 828.4 L 304.8 839.8" stroke-width="2"/>
<path d="M 301.1 829.5 L 302.6 835.4" stroke-width="3"/>
<path d="M 324.6 853.3 L 367.2 836.9" stroke-width="2.2"/>
<path d="M 329.0 857.1 L 369.4 841.6" stroke-width="2.2"/>
<path d="M 339.3 860.7 L 370.1 849.4" stroke-width="1.8"/>
<path d="M 362.8 762.0 L 376.0 796.5" stroke-width="1.8"/>
<path d="M 367.9 762.0 L 380.1 796.5" stroke-width="1.8"/>
<path d="M 381.8 842.8 L 371.9 865.1" stroke-width="2.4"/>
<path d="M 385.5 844.5 L 377.4 865.5" stroke-width="2"/>
<path d="M 392.1 842.8 L 400.0 857.4" stroke-width="2.4"/>
<path d="M 396.5 841.3 L 400.0 847.9" stroke-width="2"/>
<path d="M 351.0 773.8 L 400.0 768.6 M 353.9 785.5 L 400.0 781.1" stroke-width="1.8"/>
<path d="M 367.9 809.0 C 367.9 801.7 376.0 797.2 386.2 797.0 C 392.1 797.0 396.5 798.0 400.0 799.4" stroke-width="4.5"/>
<path d="M 367.9 809.0 L 368.6 822.2 C 371.6 828.1 380.4 831.7 389.2 832.2 L 400.0 831.7" stroke-width="2.4"/>
<path d="M 362.8 813.4 C 362.8 822.2 365.7 828.1 371.6 831.7 C 377.4 835.4 389.2 836.9 400.0 836.1" stroke-width="2.4"/>
<path d="M 377.4 809.0 C 377.4 804.6 383.3 802.4 389.2 802.4 C 393.6 802.4 398.0 803.4 400.0 804.6" stroke-width="2.4"/>
<path d="M 370.1 810.5 C 373.0 816.3 381.8 820.0 392.1 820.0 L 400.0 819.3" stroke-width="1.6"/>
<path d="M 394.3 820.0 L 394.3 828.1" stroke-width="3"/>
<path d="M 368.6 841.3 L 400.0 841.3" stroke-width="1.6"/>
<path d="M 314.3 864.8 L 362.8 870.9 L 367.2 886.8" stroke-width="2.2"/>
<path d="M 314.3 869.9 L 362.8 875.8" stroke-width="2"/>
<path d="M 367.2 880.9 L 400.0 875.8 M 367.2 886.8 L 400.0 881.7" stroke-width="2.2"/>
<path d="M 362.8 870.9 L 400.0 867.7" stroke-width="1.8"/>
<path d="M 400.1 749.1 L 410.8 747.3 L 414.5 754.7 L 460.0 760.6 L 460.7 768.2" stroke-width="2.4"/>
<path d="M 414.5 754.7 L 435.8 759.8 L 460.0 761.3" stroke-width="4"/>
<path d="M 461.5 767.9 L 494.5 788.4 L 483.5 799.4" stroke-width="2.4"/>
<path d="M 462.2 770.8 L 488.6 784.0" stroke-width="3"/>
<path d="M 494.5 788.4 C 500.4 798.7 504.0 810.5 504.8 822.2" stroke-width="2.2"/>
<ellipse cx="406.4" cy="754.4" rx="4.1" ry="1.9" stroke-width="3"/>
<path d="M 450.2 765.0 L 456.3 765.2 L 456.6 768.6 L 451.9 769.1 Z" stroke-width="2.6"/>
<path d="M 476.9 789.2 L 485.0 787.3 L 482.8 792.1 Z" stroke-width="2.6"/>
<path d="M 487.9 817.8 L 491.6 816.3 L 493.8 821.5 L 489.4 822.2 Z" stroke-width="2.4"/>
<ellipse cx="470.3" cy="848.3" rx="2.6" ry="4.1" transform="rotate(40 470.3 848.3)" stroke-width="3"/>
<ellipse cx="431.4" cy="866.5" rx="4.4" ry="2.1" transform="rotate(-20 431.4 866.5)" stroke-width="3"/>
<path d="M 407.9 761.7 L 449.0 773.0 L 460.7 768.2" stroke-width="2"/>
<path d="M 449.0 773.0 C 462.2 781.1 473.9 792.8 479.8 806.1" stroke-width="2"/>
<path d="M 473.9 797.2 C 482.8 809.0 481.3 825.1 471.0 836.9" stroke-width="4"/>
<path d="M 481.3 799.4 L 491.6 794.3 M 483.5 799.4 L 498.9 825.1 L 487.9 825.9 L 485.7 828.1" stroke-width="2.2"/>
<path d="M 487.9 825.9 L 499.6 824.8 L 499.2 829.5 L 488.6 830.3" stroke-width="2"/>
<path d="M 485.7 828.1 L 479.8 845.7 L 476.9 857.4" stroke-width="2.6"/>
<path d="M 402.0 762.0 L 396.1 795.8 M 407.2 762.0 L 400.6 796.5" stroke-width="2.4"/>
<path d="M 407.9 769.4 L 444.6 778.2 M 409.4 782.6 L 435.8 788.4" stroke-width="2"/>
<path d="M 422.6 766.4 L 425.5 781.1 M 427.0 767.2 L 424.0 781.1"/>
<path d="M 407.9 804.6 L 449.0 774.5" stroke-width="2.4"/>
<path d="M 409.4 810.5 L 450.5 781.1" stroke-width="2"/>
<path d="M 415.2 809.0 L 444.6 794.3" stroke-width="3"/>
<path d="M 444.6 794.3 L 473.9 795.8" stroke-width="2.2"/>
<path d="M 450.5 781.1 L 473.9 796.5" stroke-width="1.6"/>
<path d="M 413.8 816.3 L 473.9 797.2" stroke-width="2.4"/>
<path d="M 415.2 821.5 L 471.0 809.0" stroke-width="2.4"/>
<path d="M 428.4 823.7 L 456.3 818.5" stroke-width="3.2"/>
<path d="M 463.7 814.9 L 468.1 828.1 M 468.1 810.5 L 472.5 816.3"/>
<path d="M 413.8 828.8 L 475.4 829.5" stroke-width="2.6"/>
<path d="M 415.2 833.9 L 468.1 835.4" stroke-width="2"/>
<path d="M 435.8 839.8 L 462.2 840.6" stroke-width="3.2"/>
<path d="M 406.4 836.9 L 437.2 856.0 L 459.3 856.0" stroke-width="2.4"/>
<path d="M 409.4 842.8 L 432.8 854.5" stroke-width="2"/>
<path d="M 424.0 842.8 L 450.5 851.6" stroke-width="1.6"/>
<path d="M 394.7 841.3 L 406.4 863.3 M 391.7 842.8 L 402.0 863.3" stroke-width="2"/>
<path d="M 380.0 842.8 L 382.9 848.6" stroke-width="2"/>
<path d="M 380.0 797.2 C 388.8 797.0 397.6 798.7 403.5 804.6 C 407.9 809.0 409.4 816.3 408.6 822.2" stroke-width="4.5"/>
<path d="M 399.1 801.7 L 399.8 825.1" stroke-width="4"/>
<path d="M 394.7 798.7 C 399.1 801.7 402.0 806.1 403.5 810.5 L 404.2 825.1" stroke-width="2.2"/>
<path d="M 408.6 813.4 C 415.2 816.3 415.2 828.1 407.9 832.5 C 400.6 836.9 388.8 836.9 380.0 836.1" stroke-width="3"/>
<path d="M 380.0 831.7 C 388.8 832.2 397.6 831.0 404.2 825.1" stroke-width="2.2"/>
<path d="M 380.0 804.6 C 385.9 804.0 391.7 805.3 394.7 807.5" stroke-width="2"/>
<path d="M 393.9 810.5 L 394.4 826.6" stroke-width="3"/>
<path d="M 402.0 839.8 L 403.5 842.8" stroke-width="3"/>
<path d="M 380.0 867.7 L 428.4 861.8 L 459.3 856.0 L 460.0 861.8 L 475.4 860.4" stroke-width="2.2"/>
<path d="M 380.0 875.8 L 416.7 870.6 L 431.4 875.8 L 473.9 863.3" stroke-width="2.2"/>
<path d="M 380.0 881.7 L 429.9 878.7 L 431.4 875.8" stroke-width="2.2"/>
<path d="M 416.7 870.6 L 428.4 861.8 M 431.4 875.8 L 459.3 861.8" stroke-width="1.8"/>
<path d="M 459.3 856.0 L 475.4 855.2 L 475.4 860.4" stroke-width="2"/>
<path d="M503.2 836.8 A118.5 85.0 0 0 1 269.8 836.8" stroke-width="2" />
<path d="M290.7 869.9 A117.0 83.5 0 0 1 269.9 814.7" stroke-width="4.5" />
<path d="M268.0 822.0 A118.5 70.0 0 0 1 289.4 781.8" stroke-width="2" />
<path d="M492.7 850.3 A114.5 75.5 0 0 1 285.4 857.4" stroke-width="9.5" style="stroke:#2a2a2a;stroke-linecap:butt"/>
<path d="M490.2 851.9 A113.5 73.5 0 0 1 288.2 858.8" stroke-width="2.2" stroke-dasharray="3 3.5" style="stroke:#fff;stroke-linecap:butt"/>
<path d="M492.0 853.6 A115.5 77.8 0 0 1 286.5 860.9" stroke-width="2.2" stroke-dasharray="3 3.5" stroke-dashoffset="3.2" style="stroke:#fff;stroke-linecap:butt"/>
<path d="M501.0 822.0 A114.5 78.0 0 0 1 463.1 880.0" stroke-width="9.5" style="stroke:#2a2a2a;stroke-linecap:butt"/>
<path d="M486.7 857.7 A113.5 76.0 0 0 1 462.4 878.5" stroke-width="2" stroke-dasharray="2.5 4" style="stroke:#fff;stroke-linecap:butt"/>
<path d="M505 826 C509 835 512 850 514 868 C516 880 518 888 523 894" stroke-width="6.5" style="stroke:#2a2a2a"/>
<path d="M506 830 C509 838 512 852 514 868 C516 880 518 888 523 894" stroke-width="2.6" stroke-dasharray="3 3" style="stroke:#fff;stroke-linecap:butt"/>
<ellipse cx="382.8" cy="670.0" rx="13.5" ry="7.8" stroke-width="2"/>
<path d="M 375.7 668.7 C 375.9 665.7 379.4 664.5 383.0 664.5 C 386.7 664.5 389.8 665.9 389.8 668.7 C 389.8 671.8 386.7 673.3 382.8 673.3 C 378.7 673.3 375.7 671.6 375.7 668.7 Z" stroke-width="2"/>
<path d="M 377.5 663.2 C 380.6 662.3 385.5 662.3 388.5 663.5" stroke-width="3"/>
<path d="M 379.4 669.4 C 380.6 667.5 384.9 667.5 386.1 669.4" stroke-width="2"/>
<path d="M 378.1 676.5 C 383.0 678.9 389.1 678.2 393.1 675.5" stroke-width="3.5"/>
<path d="M 369.3 670.6 L 369.6 676.7 C 371.4 682.2 379.4 684.6 384.3 684.3 C 390.4 684.0 395.3 681.0 396.0 677.3 L 396.2 670.6" stroke-width="2"/>
<path d="M 394.6 672.4 L 394.3 679.1" stroke-width="4"/>
<path d="M 398.3 673.3 L 433.2 680.1"/>
<text transform="translate(435.9 687.1) scale(0.67 1)" font-size="17.6">20</text>
<text transform="translate(214.7 792.5) scale(0.67 1)" font-size="17.6">19</text>
<path d="M 226.5 796.2 L 264.8 821.0"/>
<path d="M 280.5 880.9 L 280.5 896.2 M 280.7 902.3 L 280.9 910.9"/>
<path d="M 265.2 923.7 L 281.5 912.5 L 291.7 915.6 C 294.8 912.1 301.9 910.9 308.1 912.1 C 313.1 913.5 315.8 917.6 315.2 922.7 C 314.2 926.4 311.1 928.4 308.1 927.8 L 301.9 925.8 L 281.5 934.3 L 267.3 927.2 Z" stroke-width="2"/>
<path d="M 265.6 925.2 L 281.5 931.9 L 301.9 923.7 L 308.1 925.8"/>
<path d="M 291.7 915.6 L 301.9 922.7 L 301.9 925.8" stroke-width="2"/>
<path d="M 278.5 920.3 L 285.2 920.3 L 285.2 923.7 L 278.5 923.7 Z" stroke-width="2"/>
<path d="M 295.8 914.6 C 297.9 918.6 301.9 921.1 306.0 921.7" stroke-width="1.2"/>
<path d="M 235.7 899.3 L 268.3 916.2"/>
<text transform="translate(217.5 904.0) scale(0.67 1)" font-size="17.6">21</text>
<path d="M 279.5 942.7 L 279.5 951.3 M 284.0 942.7 L 284.0 951.3 M 279.5 942.7 L 284.0 942.7" stroke-width="1.8"/>
<path d="M 279.5 945.1 L 284.0 944.3 M 279.5 947.6 L 284.0 946.8 M 279.5 950.0 L 284.0 949.2" stroke-width="1.8"/>
<ellipse cx="281.8" cy="954.9" rx="6.9" ry="4.1" stroke-width="2.2"/>
<ellipse cx="281.8" cy="954.5" rx="3.7" ry="1.8" stroke-width="2.4"/>
<path d="M 274.8 955.7 C 275.8 960.4 287.7 960.4 288.7 955.7" stroke-width="2.4"/>
<path d="M 237.7 938.6 L 276.5 948.8"/>
<text transform="translate(219.6 944.3) scale(0.67 1)" font-size="17.6">22</text>
<path d="M 506.5 826.1 C 510.6 840.4 511.6 850.6 512.6 860.8 C 513.6 871.0 515.7 879.1 524.9 891.4 C 531.0 898.5 541.2 902.0 565.6 914.8" stroke-width="6.5" style="stroke:#2a2a2a"/>
<path d="M 506.5 826.1 C 510.6 840.4 511.6 850.6 512.6 860.8 C 513.6 871.0 515.7 879.1 524.9 891.4 C 531.0 898.5 541.2 902.0 565.6 914.8" stroke-width="2.8" stroke-dasharray="3 3" style="stroke:#fff"/>
<path d="M 564.6 871.4 L 533.4 891.4"/>
<text transform="translate(562.2 866.1) scale(0.67 1)" font-size="17.6">23</text>
<path d="M 571.8 918.9 L 591.0 906.7 L 614.7 911.8 L 590.2 927.3 Z" stroke-width="2"/>
<path d="M 571.8 918.9 L 572.9 939.3 L 590.2 953.6 L 602.4 955.6 C 610.6 955.0 618.7 951.8 621.2 948.9 L 621.8 944.4" stroke-width="2.2"/>
<path d="M 590.2 927.3 L 591.2 953.6" stroke-width="2"/>
<path d="M 594.3 931.0 L 595.3 949.3"/>
<path d="M 596.3 931.0 L 621.8 944.4" stroke-width="1.6"/>
<path d="M 600.4 925.9 L 608.5 921.8 M 602.4 923.8 L 607.5 925.3" stroke-width="1.2"/>
<path d="M 604.5 957.5 C 610.6 956.5 617.7 953.4 620.8 949.3" stroke-width="3.5"/>
<path d="M 621.8 944.4 L 623.8 946.3 L 621.8 948.3"/>
<path d="M 614.7 911.8 L 616.7 916.7 L 622.8 923.8 L 645.2 933.0 L 653.4 933.8 L 669.7 920.0 C 673.8 917.9 677.9 917.5 681.9 919.1 L 694.2 925.9 C 697.2 927.9 699.3 931.0 699.9 935.0 L 702.3 957.5 L 701.3 959.9" stroke-width="2.2"/>
<path d="M 620.8 923.2 L 635.5 930.2" stroke-width="3.5"/>
<path d="M 651.4 933.4 L 669.7 920.8" stroke-width="3.2"/>
<path d="M 699.9 935.0 L 701.9 958.5" stroke-width="3"/>
<path d="M 600.4 962.6 C 596.3 964.0 593.5 966.6 593.3 970.7 L 594.3 981.9 C 596.3 989.1 600.4 993.1 604.5 995.2 L 620.8 1003.3 L 627.3 1003.3 L 694.2 965.6 L 701.9 958.5" stroke-width="2.2"/>
<path d="M 600.4 962.6 L 604.5 957.9" stroke-width="2"/>
<path d="M 602.4 965.6 L 616.7 973.8 L 626.9 974.2 L 641.2 968.9 L 694.2 935.0 L 698.2 932.0" stroke-width="1.8"/>
<path d="M 641.2 969.7 L 688.1 941.2" stroke-width="4.2" style="stroke:#333"/>
<path d="M 604.5 967.7 L 613.6 972.8" stroke-width="3.5"/>
<path d="M 621.8 974.8 L 622.4 1002.3" stroke-width="1.6"/>
<path d="M 619.1 979.9 L 619.6 991.1 M 623.2 980.9 L 623.6 992.1" stroke-width="3"/>
<path d="M 639.1 977.5 L 685.0 950.5 L 686.0 964.0 L 641.6 991.1 Z" stroke-width="2.2"/>
<path d="M 641.2 981.9 L 681.9 957.9 L 685.0 950.5 M 681.9 957.9 L 686.0 964.0" stroke-width="1.6"/>
<path d="M 639.1 984.0 L 648.3 987.6 L 641.6 991.1 Z" stroke-width="1.5" fill="#222"/>
<path d="M 669.7 961.5 L 679.9 955.8" stroke-width="3"/>
<path d="M 669.7 991.1 L 712.5 965.6 L 732.9 973.8 L 732.9 989.1 L 688.1 1017.0 L 670.7 1007.4 Z" stroke-width="2.2"/>
<path d="M 669.7 991.1 L 688.1 1002.3 L 732.9 973.8 M 688.1 1002.3 L 688.1 1017.0" stroke-width="2"/>
<path d="M 678.9 991.1 C 677.9 989.1 679.9 987.0 683.0 985.6 L 710.5 969.7 C 714.6 968.1 718.6 969.3 722.7 971.7 C 725.8 973.4 725.2 975.8 722.7 977.5 L 694.2 994.2 C 690.1 996.2 686.0 996.2 683.0 994.2 Z" stroke-width="2.4"/>
<path d="M 684.0 991.1 L 712.5 974.2 C 715.6 972.8 718.6 974.2 720.7 975.8" stroke-width="1.6"/>
<path d="M 694.2 986.0 C 694.2 983.0 698.2 981.5 700.3 983.0 M 695.2 987.0 C 697.2 990.1 700.3 989.1 700.7 987.0 M 696.2 984.0 L 697.2 989.1" stroke-width="2.4"/>
<path d="M 687.0 1004.4 L 687.6 1011.5" stroke-width="3.5"/>
<path d="M 714.6 971.7 L 715.6 979.9" stroke-width="1.5"/>
<path d="M 679.9 990.1 L 684.0 994.2" stroke-width="3"/>
<path d="M 745.1 938.1 L 704.4 951.8 M 748.2 938.1 L 730.9 969.7"/>
<text transform="translate(742.7 935.1) scale(0.67 1)" font-size="17.6">24</text>
<text transform="translate(511.5 551.5) scale(0.67 1)" font-size="17.6">17</text>
<path d="M 529.6 545.2 L 541.8 551.3"/>
<text transform="translate(514.6 672.9) scale(0.67 1)" font-size="17.6">14</text>
<text transform="translate(514.6 695.6) scale(0.67 1)" font-size="17.6">18</text>
<path d="M 566.2 627.2 C 567.1 634.1 569.7 644.6 573.2 651.6 L 578.4 662.0" stroke-width="2.6"/>
<text transform="translate(790.6 1006.6) scale(0.775 1)" font-size="24" font-weight="bold" style="stroke:#333;stroke-width:0.3px;fill:#333">38254</text>
<path d="M 817.4 913.4 L 818.4 913.6 L 817.8 915.2 Z" stroke-width="0.8" fill="#222"/>
<rect x="418.8" y="202.8" width="1.2" height="1.2" fill="#333" stroke="none" style="stroke:none"/>
<rect x="432" y="235.8" width="1.2" height="1.2" fill="#333" stroke="none" style="stroke:none"/>
<rect x="434" y="235.8" width="1.2" height="1.2" fill="#333" stroke="none" style="stroke:none"/>
<path d="M533.1 670.4 L569.6 686.2 M532.2 689.6 L569.6 702"/>
<path d="M 255.5 278.3 L 261.6 278.3 L 264.3 280.4 L 275.0 267.9 L 300.0 251.0" stroke-width="2.2"/>
<path d="M 273.8 271.0 L 300.0 258.7" stroke-width="1.8"/>
<path d="M 272.4 268.9 L 277.7 271.1" stroke-width="3.2"/>
<path d="M 273.8 276.7 L 294.6 265.5" stroke-width="1"/>
<path d="M 307.5 294.8 L 311.1 290.6" stroke-width="1.2"/>
<path d="M 327.6 280.2 L 340.0 275.0" stroke-width="1"/>
</svg>
</body></html>
